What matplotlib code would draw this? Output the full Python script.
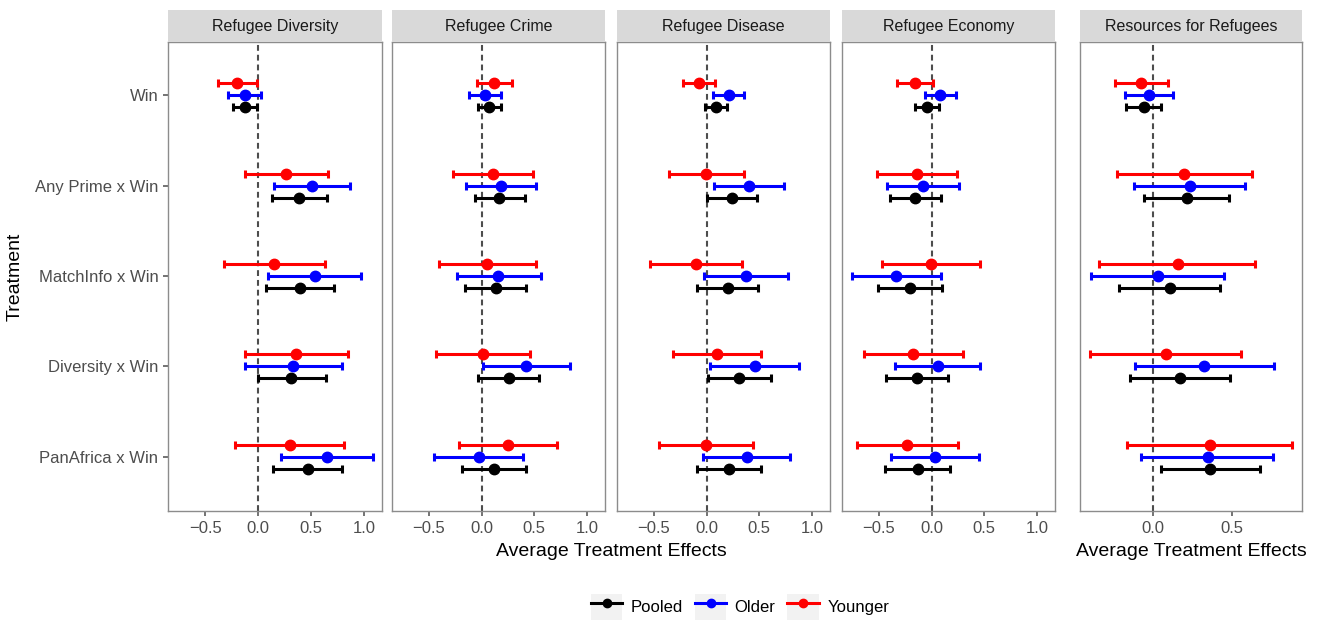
import matplotlib
matplotlib.use("Agg")
import matplotlib.pyplot as plt
from matplotlib.lines import Line2D
from matplotlib.patches import Rectangle
from matplotlib.legend_handler import HandlerTuple
import numpy as np

plt.rcParams['font.family'] = ['Liberation Sans', 'DejaVu Sans']

# ================== data: (low, estimate, high) per treatment ==================
panels = ["Refugee Diversity", "Refugee Crime", "Refugee Disease", "Refugee Economy", "Resources for Refugees"]
treatments = ["Win", "Any Prime x Win", "MatchInfo x Win", "Diversity x Win", "PanAfrica x Win"]
groups = ["Pooled", "Older", "Younger"]
group_colors = {"Pooled": "black", "Older": "blue", "Younger": "red"}

diversity_pooled = [[-0.240, -0.126, -0.006], [0.136, 0.391, 0.650], [0.076, 0.394, 0.716], [0.003, 0.315, 0.637], [0.145, 0.467, 0.789]]
diversity_older = [[-0.284, -0.126, 0.032], [0.148, 0.511, 0.868], [0.095, 0.536, 0.975], [-0.120, 0.334, 0.789], [0.218, 0.650, 1.082]]
diversity_younger = [[-0.379, -0.196, -0.009], [-0.123, 0.268, 0.659], [-0.322, 0.155, 0.634], [-0.126, 0.360, 0.845], [-0.218, 0.297, 0.814]]

crime_pooled = [[-0.035, 0.066, 0.183], [-0.066, 0.167, 0.407], [-0.155, 0.132, 0.420], [-0.035, 0.256, 0.546], [-0.189, 0.117, 0.420]]
crime_older = [[-0.123, 0.032, 0.180], [-0.148, 0.183, 0.511], [-0.237, 0.158, 0.562], [0.009, 0.420, 0.842], [-0.448, -0.028, 0.391]]
crime_younger = [[-0.041, 0.120, 0.284], [-0.271, 0.104, 0.483], [-0.407, 0.050, 0.511], [-0.435, 0.009, 0.454], [-0.215, 0.246, 0.719]]

disease_pooled = [[-0.019, 0.085, 0.196], [0.000, 0.240, 0.477], [-0.088, 0.202, 0.487], [0.013, 0.310, 0.607], [-0.088, 0.212, 0.512]]
disease_older = [[0.057, 0.209, 0.354], [0.073, 0.401, 0.733], [-0.025, 0.373, 0.768], [0.035, 0.455, 0.872], [-0.038, 0.379, 0.787]]
disease_younger = [[-0.224, -0.076, 0.076], [-0.360, -0.003, 0.354], [-0.540, -0.104, 0.335], [-0.319, 0.098, 0.518], [-0.449, -0.006, 0.439]]

economy_pooled = [[-0.155, -0.044, 0.066], [-0.397, -0.158, 0.085], [-0.508, -0.205, 0.098], [-0.432, -0.136, 0.155], [-0.442, -0.132, 0.173]]
economy_older = [[-0.066, 0.082, 0.230], [-0.426, -0.082, 0.256], [-0.754, -0.334, 0.085], [-0.347, 0.057, 0.457], [-0.388, 0.032, 0.448]]
economy_younger = [[-0.331, -0.158, 0.009], [-0.514, -0.136, 0.240], [-0.467, -0.003, 0.461], [-0.637, -0.174, 0.293], [-0.710, -0.233, 0.246]]

resources_pooled = [[-0.172, -0.059, 0.051], [-0.057, 0.216, 0.479], [-0.216, 0.106, 0.424], [-0.146, 0.172, 0.485], [0.047, 0.364, 0.678]]
resources_older = [[-0.176, -0.023, 0.127], [-0.119, 0.233, 0.583], [-0.392, 0.028, 0.447], [-0.117, 0.326, 0.767], [-0.076, 0.347, 0.763]]
resources_younger = [[-0.244, -0.076, 0.093], [-0.229, 0.195, 0.625], [-0.343, 0.155, 0.648], [-0.400, 0.081, 0.559], [-0.163, 0.360, 0.881]]

panel_data = [
    (diversity_pooled, diversity_older, diversity_younger),
    (crime_pooled, crime_older, crime_younger),
    (disease_pooled, disease_older, disease_younger),
    (economy_pooled, economy_older, economy_younger),
    (resources_pooled, resources_older, resources_younger),
]

# ================== layout (pixel based) ==================
W, H = 1323, 620
fig = plt.figure(figsize=(W / 100, H / 100), dpi=100)

panel_left = [168, 392, 617, 842, 1080]
panel_width = [214, 213, 213, 213, 222]
top_px, bottom_px, strip_top = 42, 511, 10
xlims = [(-0.85, 1.17)] * 4 + [(-0.464, 0.945)]
xticks = [[-0.5, 0.0, 0.5, 1.0]] * 4 + [[0.0, 0.5]]
offsets = {"Pooled": -0.133, "Older": 0.0, "Younger": 0.133}

ypos = np.arange(len(treatments))[::-1]
border = '#8C8C8C'
for i, name in enumerate(panels):
    l = panel_left[i] / W
    w = panel_width[i] / W
    b = 1 - bottom_px / H
    h = (bottom_px - top_px) / H
    ax = fig.add_axes([l, b, w, h])

    # 零线
    ax.axvline(0, color='#4D4D4D', lw=1.5, dashes=(2.8, 1.9), zorder=1)
    for g, rows in zip(groups, panel_data[i]):
        arr = np.array(rows)
        est = arr[:, 1]
        err = [est - arr[:, 0], arr[:, 2] - est]
        ax.errorbar(est, ypos + offsets[g], xerr=err, fmt='o', color=group_colors[g],
                    ms=7.5, elinewidth=2.2, capsize=3.2, capthick=2.2, zorder=3)

    ax.set_xlim(*xlims[i])
    ax.set_ylim(-0.6, 4.59)
    ax.set_xticks(xticks[i])
    ax.set_xticklabels([f"{t:.1f}".replace('-', '\u2212') for t in xticks[i]])
    ax.tick_params(axis='both', colors='#4D4D4D', labelsize=12, length=3.5, width=1.1, labelcolor='#4D4D4D')
    if i == 0:
        ax.set_yticks(ypos)
        ax.set_yticklabels(treatments)
        ax.set_ylabel("Treatment", fontsize=14, color='black', labelpad=8)
    else:
        ax.set_yticks([])
    for s in ax.spines.values():
        s.set_color(border)
        s.set_linewidth(1.0)

    # facet strip
    sax = fig.add_axes([l, 1 - top_px / H, w, (top_px - strip_top) / H])
    sax.set_facecolor('#D9D9D9')
    sax.set_xticks([])
    sax.set_yticks([])
    for s in sax.spines.values():
        s.set_visible(False)
    sax.text(0.5, 0.48, name, ha='center', va='center', fontsize=11.5, color='#1A1A1A',
             transform=sax.transAxes)

# axis titles
fig.text((168 + 1055) / 2 / W, 1 - 551 / H, "Average Treatment Effects", ha='center', va='center', fontsize=14)
fig.text((1080 + 1302) / 2 / W, 1 - 551 / H, "Average Treatment Effects", ha='center', va='center', fontsize=14)

# legend (gray key background + line/point)
handles = []
for g in groups:
    bg = Rectangle((0, 0), 1, 1, facecolor='#F2F2F2', edgecolor='none')
    ln = Line2D([], [], color=group_colors[g], marker='o', ms=6, lw=2.2)
    handles.append((bg, ln))
fig.legend(handles, groups, loc='center', bbox_to_anchor=(740 / W, 1 - 607 / H), ncol=3,
           frameon=False, fontsize=12, handlelength=1.9, handleheight=2.1,
           handletextpad=0.5, columnspacing=0.7,
           handler_map={tuple: HandlerTuple(ndivide=1, pad=0)})

fig.savefig("out.png", dpi=100)
